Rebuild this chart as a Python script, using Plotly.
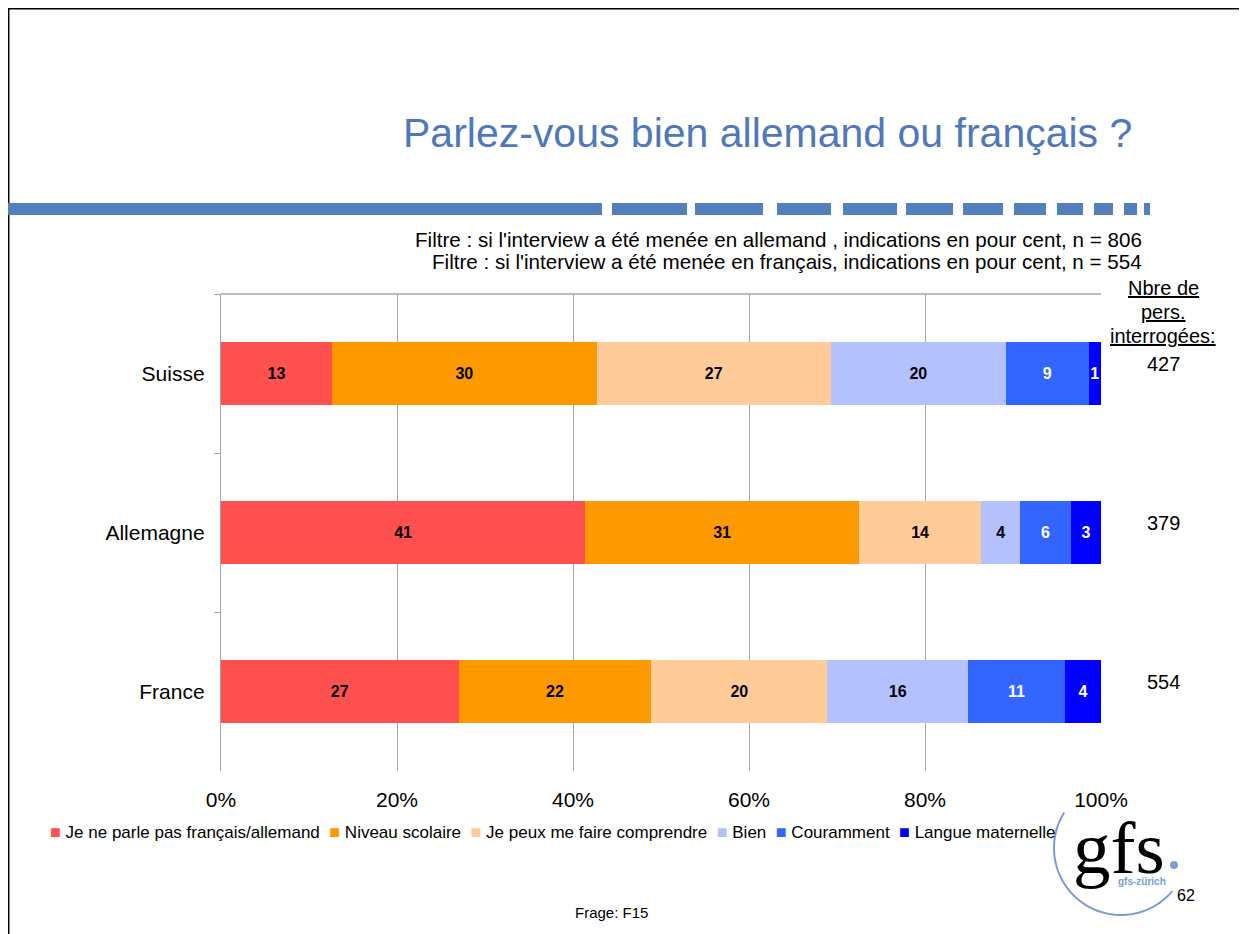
import numpy as np
import plotly.graph_objects as go

# data (bar widths in % of respondents)
COUNTRIES = ["Suisse", "Allemagne", "France"]
RESPONDENTS = [427, 379, 554]

SERIES = [
    "Je ne parle pas français/allemand",
    "Niveau scolaire",
    "Je peux me faire comprendre",
    "Bien",
    "Couramment",
    "Langue maternelle",
]
NO_LANGUAGE = [12.6, 41.4, 27.0]
SCHOOL_LEVEL = [30.1, 31.1, 21.9]
UNDERSTOOD = [26.6, 13.9, 20.0]
GOOD = [19.9, 4.4, 16.0]
FLUENT = [9.4, 5.8, 11.0]
MOTHER_TONGUE = [1.4, 3.4, 4.1]
VALUES = [NO_LANGUAGE, SCHOOL_LEVEL, UNDERSTOOD, GOOD, FLUENT, MOTHER_TONGUE]

COLORS = ["#FF5050", "#FF9900", "#FFCC99", "#B3C2FF", "#3366FF", "#0000FF"]
TEXT_COLORS = ["black", "black", "black", "black", "white", "white"]

X_TICKS = [0, 20, 40, 60, 80, 100]

TITLE = "Parlez-vous bien allemand ou français ?"
FILTERS = [
    "Filtre : si l'interview a été menée en allemand , indications en pour cent, n = 806",
    "Filtre : si l'interview a été menée en français, indications en pour cent, n = 554",
]
RESP_HEADER = ["Nbre de", "pers.", "interrogées:"]

FONT = "Liberation Sans, Arial, sans-serif"
BLUE = "rgb(84,127,189)"
LOGO_BLUE = "rgb(122,156,216)"

# the page has an 8px body margin, so the figure is laid out 8px smaller
OFF = 8
W, H = 1247 - OFF, 934 - OFF
L, R, T, B = 221, 1101, 294, 771  # plot area, in page pixels


def px(x):
    return (x - L) / (R - L)


def py(y):
    return (B - y) / (B - T)


fig = go.Figure()
for name, vals, col, tcol in zip(SERIES, VALUES, COLORS, TEXT_COLORS):
    fig.add_trace(go.Bar(
        name=name,
        y=COUNTRIES,
        x=vals,
        orientation="h",
        width=0.4,
        marker=dict(color=col, line=dict(width=0)),
        text=[f"{v:.0f}" for v in vals],
        texttemplate="<b>%{text}</b>",
        textposition="inside",
        insidetextanchor="middle",
        textangle=0,
        textfont=dict(color=tcol, size=16, family=FONT),
        showlegend=False,
    ))


def note(text, x, y, size, xanchor="center", color="black", family=FONT, **kw):
    return dict(text=text, x=px(x), y=py(y), xref="paper", yref="paper",
                xanchor=xanchor, yanchor="middle", showarrow=False,
                font=dict(size=size, color=color, family=family), **kw)


annotations = [note(TITLE, 1134, 133, 41, xanchor="right", color="rgb(79,120,186)")]
for line, y in zip(FILTERS, [239, 261]):
    annotations.append(note(line, 1144, y, 20.6, xanchor="right"))
for line, y in zip(RESP_HEADER, [288, 312, 336]):
    annotations.append(note(f"<u>{line}</u>", 1163, y, 20))
for c, n in zip(COUNTRIES, RESPONDENTS):
    annotations.append(dict(
        text=str(n), x=px(1163), y=c, xref="paper", yref="y",
        xanchor="center", yanchor="middle", yshift=10, showarrow=False,
        font=dict(size=20, color="black", family=FONT),
    ))
# legend built by hand (compact square markers)
legend_text = "  ".join(
    f"<span style='color:{c};font-size:18px'>■</span> {n}" for n, c in zip(SERIES, COLORS)
)
annotations.append(note(legend_text, 48, 832, 17, xanchor="left"))
annotations.append(note("Frage: F15", 611, 912, 15))
annotations.append(note("62", 1186, 895, 16))
# gfs logo
annotations.append(note("gfs", 1119, 847, 75,
                        family="Liberation Serif, Times New Roman, serif"))
annotations.append(note("<b>gfs-zürich</b>", 1142, 881, 10, color=LOGO_BLUE))

shapes = []
# slide frame (left and top)
shapes.append(dict(type="line", xref="paper", yref="paper",
                   x0=px(8.2), x1=px(8.2), y0=py(8.2), y1=py(940),
                   line=dict(color="black", width=2.5)))
shapes.append(dict(type="line", xref="paper", yref="paper",
                   x0=px(8.2), x1=px(1250), y0=py(8.2), y1=py(8.2),
                   line=dict(color="black", width=2.5)))
# dashed header band
band = [(8, 602), (612, 687), (695, 763), (777, 831), (843, 897), (906, 953),
        (963, 1003), (1014, 1046), (1057, 1083), (1094, 1113), (1124, 1137), (1144, 1150)]
for a, b in band:
    shapes.append(dict(type="rect", xref="paper", yref="paper",
                       x0=px(a), x1=px(b), y0=py(215), y1=py(203),
                       fillcolor=BLUE, line=dict(width=0)))
# top axis line of the plot
shapes.append(dict(type="line", xref="x domain", yref="y domain",
                   x0=0, x1=1, y0=1, y1=1, line=dict(color="#A6A6A6", width=1.3)))
# logo arc and dot
ang = np.radians(np.linspace(212, 40, 60))
cx, cy, r = 1121, 848, 67
arc = " ".join(
    ("M" if i == 0 else "L") + f" {px(cx + r * np.cos(a)):.5f},{py(cy + r * np.sin(a)):.5f}"
    for i, a in enumerate(ang)
)
shapes.append(dict(type="path", xref="paper", yref="paper", path=arc,
                   line=dict(color=LOGO_BLUE, width=2)))
shapes.append(dict(type="circle", xref="paper", yref="paper",
                   x0=px(1170), x1=px(1178), y0=py(869), y1=py(861),
                   fillcolor=LOGO_BLUE, line=dict(width=0)))

fig.update_layout(
    width=W, height=H,
    margin=dict(l=L - OFF, r=W - (R - OFF), t=T - OFF, b=H - (B - OFF)),
    barmode="stack",
    plot_bgcolor="white",
    paper_bgcolor="white",
    font=dict(family=FONT, color="black"),
    uniformtext=dict(minsize=16, mode="show"),
    xaxis=dict(
        range=[0, 100],
        tickvals=X_TICKS,
        ticktext=[f"{v}%" for v in X_TICKS],
        showgrid=True, gridcolor="#A6A6A6", gridwidth=1.3,
        zeroline=False, showline=False, ticks="",
        ticklabelstandoff=14,
        tickfont=dict(size=21, family=FONT),
    ),
    yaxis=dict(
        autorange="reversed",
        showgrid=False,
        showline=True, linecolor="#A6A6A6", linewidth=1.3,
        ticks="outside", tickson="boundaries", ticklen=6, tickcolor="#A6A6A6",
        tickwidth=1.3,
        ticklabelstandoff=11,
        tickfont=dict(size=21, family=FONT),
    ),
    annotations=annotations,
    shapes=shapes,
)

fig.write_html("out.html")
